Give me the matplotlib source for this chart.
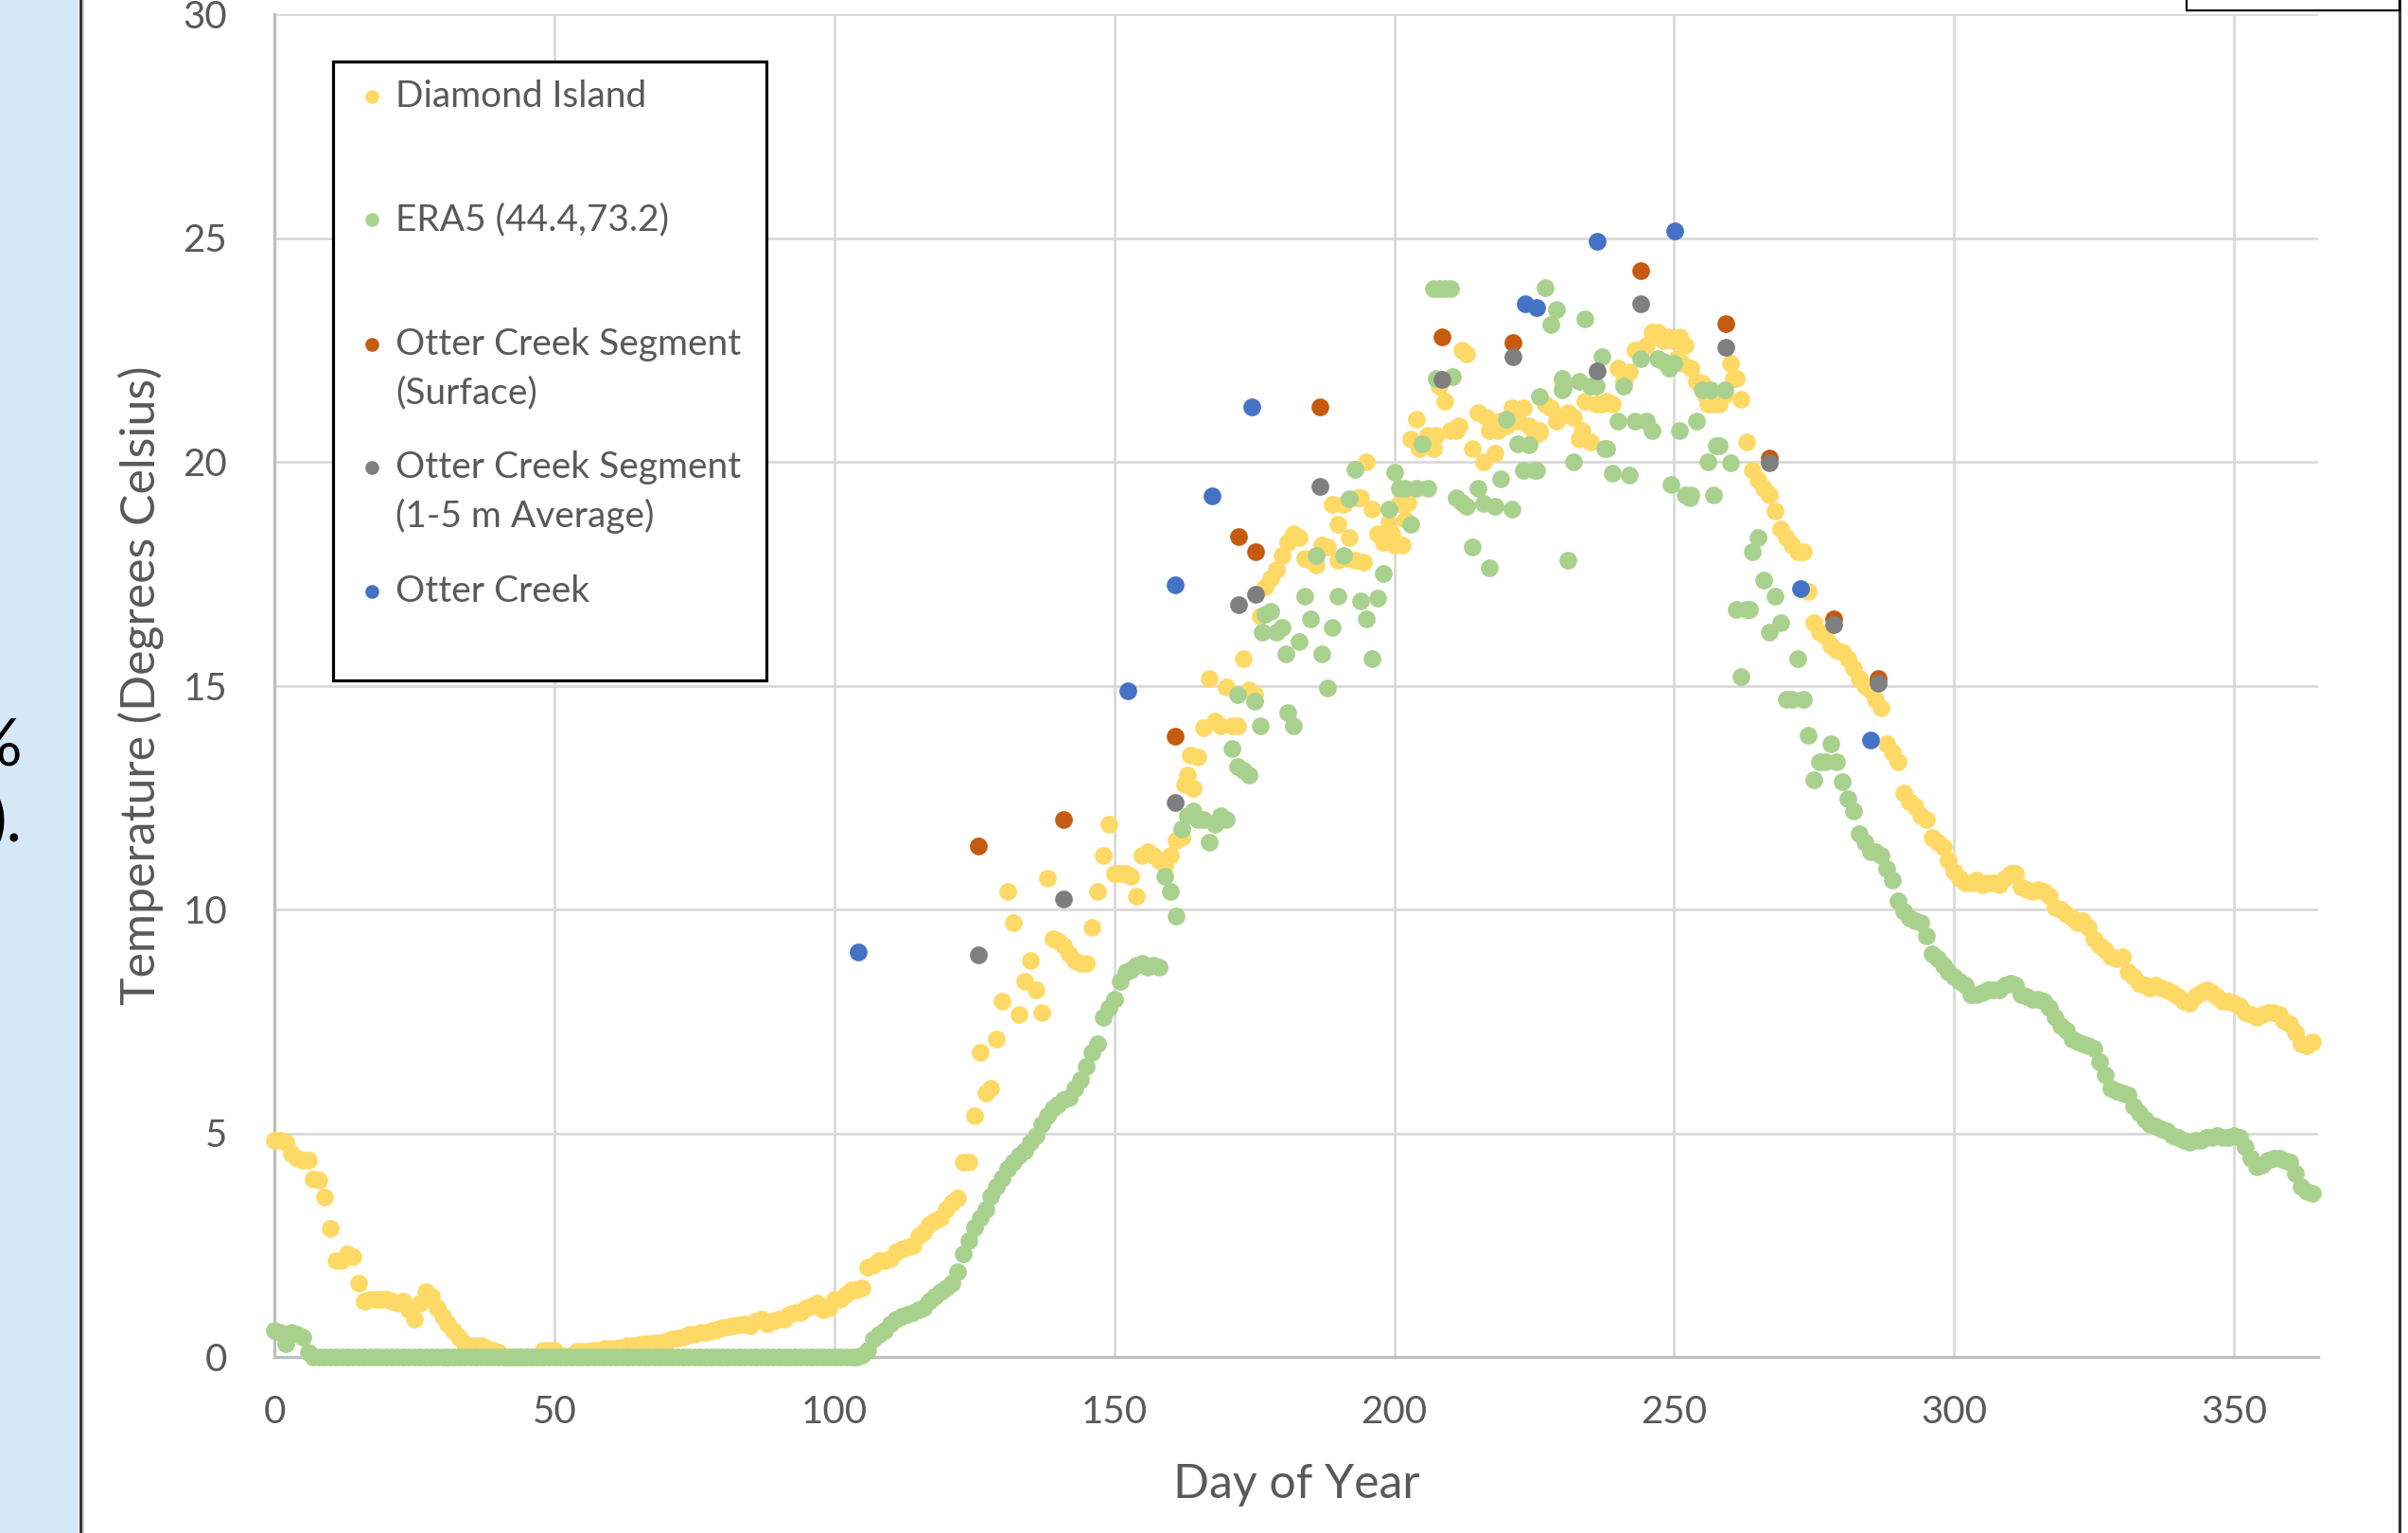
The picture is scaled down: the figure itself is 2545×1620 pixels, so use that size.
import matplotlib
matplotlib.use("Agg")
import matplotlib.pyplot as plt
from matplotlib.patches import Rectangle
from matplotlib.lines import Line2D

plt.rcParams['font.family'] = ['Lato', 'DejaVu Sans']

# ---------------- data ----------------
di_day = list(range(0, 365))
di_temp = [
    4.85, 4.85, 4.80, 4.55, 4.45, 4.40, 4.40, 3.97, 3.95, 3.57,
    2.88, 2.15, 2.15, 2.30, 2.25, 1.65, 1.25, 1.30, 1.30, 1.30,
    1.30, 1.25, 1.20, 1.25, 1.05, 0.85, 1.20, 1.45, 1.35, 1.10,
    0.90, 0.75, 0.60, 0.45, 0.30, 0.25, 0.25, 0.25, 0.20, 0.15,
    0.10, 0.00, 0.00, 0.00, 0.00, 0.00, 0.00, 0.00, 0.15, 0.15,
    0.15, 0.05, 0.00, 0.05, 0.12, 0.12, 0.12, 0.15, 0.15, 0.18,
    0.20, 0.20, 0.22, 0.25, 0.25, 0.28, 0.30, 0.30, 0.32, 0.32,
    0.35, 0.40, 0.42, 0.45, 0.50, 0.50, 0.55, 0.55, 0.60, 0.62,
    0.65, 0.68, 0.70, 0.72, 0.75, 0.70, 0.80, 0.85, 0.75, 0.80,
    0.85, 0.85, 0.95, 1.00, 1.00, 1.10, 1.15, 1.20, 1.05, 1.10,
    1.30, 1.30, 1.40, 1.50, 1.50, 1.55, 2.00, 2.05, 2.15, 2.15,
    2.20, 2.35, 2.40, 2.45, 2.50, 2.70, 2.80, 2.95, 3.05, 3.10,
    3.30, 3.45, 3.55, 4.35, 4.35, 5.40, 6.80, 5.90, 6.00, 7.10,
    7.95, 10.40, 9.70, 7.65, 8.40, 8.85, 8.20, 7.70, 10.70, 9.35,
    9.30, 9.20, 9.00, 8.85, 8.80, 8.80, 9.60, 10.40, 11.20, 11.90,
    10.80, 10.80, 10.80, 10.75, 10.30, 11.20, 11.30, 11.20, 11.10, 11.00,
    11.20, 11.55, 11.60, 13.00, 12.70, 13.40, 14.05, 15.15, 14.20, 14.10,
    14.97, 14.10, 14.10, 15.60, 14.90, 14.80, 16.55, 17.20, 17.40, 17.60,
    17.90, 18.20, 18.40, 18.30, 17.85, 17.80, 17.70, 18.15, 18.10, 19.05,
    18.60, 19.05, 18.30, 17.80, 19.20, 20.00, 18.95, 18.40, 18.20, 18.65,
    18.15, 19.06, 18.70, 20.50, 20.95, 20.40, 20.60, 20.30, 21.70, 21.35,
    20.70, 20.70, 22.50, 22.40, 20.30, 21.10, 20.00, 20.70, 20.20, 20.90,
    20.80, 21.20, 20.90, 21.20, 20.80, 20.60, 20.70, 21.30, 21.20, 20.90,
    21.80, 21.10, 21.00, 20.50, 21.35, 20.45, 21.30, 21.30, 21.35, 21.30,
    22.10, 21.80, 22.00, 22.50, 22.50, 22.60, 22.90, 22.90, 22.70, 22.80,
    22.70, 22.80, 22.60, 22.10, 21.80, 21.75, 21.30, 21.30, 21.30, 21.50,
    22.20, 21.85, 21.40, 20.45, 19.80, 19.60, 19.40, 19.25, 18.90, 18.50,
    18.30, 18.15, 18.00, 18.00, 17.10, 16.40, 16.20, 16.10, 15.90, 15.80,
    15.75, 15.60, 15.40, 15.15, 15.00, 14.90, 14.70, 14.50, 13.70, 13.50,
    13.30, 12.60, 12.40, 12.30, 12.10, 12.00, 11.60, 11.50, 11.40, 11.10,
    10.85, 10.70, 10.60, 10.60, 10.65, 10.55, 10.60, 10.60, 10.55, 10.70,
    10.80, 10.80, 10.50, 10.45, 10.40, 10.45, 10.40, 10.30, 10.05, 10.00,
    9.90, 9.80, 9.70, 9.75, 9.60, 9.35, 9.20, 9.10, 8.95, 8.90,
    8.95, 8.60, 8.50, 8.35, 8.30, 8.25, 8.30, 8.25, 8.20, 8.15,
    8.05, 7.95, 7.90, 8.05, 8.15, 8.20, 8.15, 8.05, 7.95, 7.95,
    7.90, 7.85, 7.70, 7.65, 7.60, 7.65, 7.70, 7.70, 7.65, 7.50,
    7.45, 7.25, 7.00, 6.95, 7.05,
]
di_extra_day = [162.5, 163.5, 190.0, 191.5, 194.5, 193.5, 199.5, 201.5, 202.5,
                204.5, 206.5, 207.5, 211.5, 216.5, 218.5, 226.0, 229.5, 233.5,
                250.5, 251.5, 255.5, 260.5]
di_extra_temp = [12.80, 13.45, 17.80, 17.85, 17.75, 19.20, 18.40, 18.15, 19.10,
                 20.30, 20.35, 20.60, 20.80, 21.00, 20.70, 20.65, 21.00, 20.70,
                 22.30, 22.20, 21.50, 21.85]

era_day = list(range(0, 365))
era_temp = [
    0.60, 0.55, 0.30, 0.55, 0.50, 0.45, 0.10, 0.00, 0.00, 0.00,
    0.00, 0.00, 0.00, 0.00, 0.00, 0.00, 0.00, 0.00, 0.00, 0.00,
    0.00, 0.00, 0.00, 0.00, 0.00, 0.00, 0.00, 0.00, 0.00, 0.00,
    0.00, 0.00, 0.00, 0.00, 0.00, 0.00, 0.00, 0.00, 0.00, 0.00,
    0.00, 0.00, 0.00, 0.00, 0.00, 0.00, 0.00, 0.00, 0.00, 0.00,
    0.00, 0.00, 0.00, 0.00, 0.00, 0.00, 0.00, 0.00, 0.00, 0.00,
    0.00, 0.00, 0.00, 0.00, 0.00, 0.00, 0.00, 0.00, 0.00, 0.00,
    0.00, 0.00, 0.00, 0.00, 0.00, 0.00, 0.00, 0.00, 0.00, 0.00,
    0.00, 0.00, 0.00, 0.00, 0.00, 0.00, 0.00, 0.00, 0.00, 0.00,
    0.00, 0.00, 0.00, 0.00, 0.00, 0.00, 0.00, 0.00, 0.00, 0.00,
    0.00, 0.00, 0.00, 0.00, 0.00, 0.05, 0.15, 0.40, 0.50, 0.60,
    0.75, 0.85, 0.90, 0.95, 1.00, 1.05, 1.10, 1.25, 1.35, 1.45,
    1.55, 1.65, 1.90, 2.30, 2.60, 2.90, 3.10, 3.30, 3.60, 3.80,
    4.00, 4.20, 4.35, 4.50, 4.60, 4.80, 4.95, 5.20, 5.40, 5.55,
    5.65, 5.75, 5.80, 6.00, 6.20, 6.50, 6.80, 7.00, 7.60, 7.80,
    8.00, 8.40, 8.60, 8.65, 8.75, 8.80, 8.70, 8.75, 8.70, 10.75,
    10.40, 9.85, 11.80, 12.10, 12.20, 12.00, 12.00, 11.50, 11.90, 12.10,
    12.00, 13.60, 14.80, 13.10, 13.00, 14.66, 14.10, 16.60, 16.66, 16.20,
    16.30, 14.40, 14.10, 15.98, 17.00, 16.50, 17.90, 15.70, 14.95, 16.30,
    17.00, 17.90, 19.18, 19.83, 16.90, 16.50, 15.60, 16.95, 17.50, 18.95,
    19.77, 19.40, 19.40, 18.60, 19.40, 20.40, 19.40, 23.86, 23.86, 23.86,
    23.86, 19.20, 19.10, 19.00, 18.10, 19.40, 19.06, 17.63, 19.00, 19.63,
    20.95, 18.95, 20.40, 19.80, 20.38, 19.80, 21.46, 23.90, 23.06, 23.40,
    21.60, 17.80, 20.00, 21.80, 23.20, 21.70, 21.70, 22.35, 20.30, 19.75,
    20.90, 21.70, 19.70, 20.90, 22.30, 20.90, 20.70, 22.30, 22.25, 22.10,
    22.20, 20.70, 19.25, 19.25, 20.90, 21.60, 20.00, 19.25, 20.35, 21.60,
    19.98, 16.70, 15.20, 16.70, 18.00, 18.30, 17.35, 16.20, 17.00, 16.40,
    14.70, 14.70, 15.60, 14.70, 13.90, 12.90, 13.30, 13.30, 13.70, 13.30,
    12.85, 12.47, 12.20, 11.70, 11.50, 11.30, 11.30, 11.20, 10.90, 10.65,
    10.20, 9.95, 9.80, 9.75, 9.70, 9.40, 9.00, 8.90, 8.75, 8.60,
    8.50, 8.40, 8.30, 8.10, 8.10, 8.15, 8.20, 8.20, 8.20, 8.30,
    8.35, 8.30, 8.10, 8.05, 8.00, 8.00, 7.95, 7.80, 7.60, 7.40,
    7.30, 7.10, 7.05, 7.00, 6.95, 6.90, 6.60, 6.30, 6.00, 5.95,
    5.90, 5.85, 5.60, 5.45, 5.30, 5.20, 5.15, 5.10, 5.05, 4.95,
    4.90, 4.85, 4.80, 4.85, 4.85, 4.90, 4.90, 4.95, 4.90, 4.90,
    4.95, 4.90, 4.70, 4.45, 4.25, 4.30, 4.40, 4.45, 4.45, 4.40,
    4.35, 4.10, 3.80, 3.70, 3.65,
]
era_extra_day = [172.0, 176.5, 180.7, 207.5, 210.3, 225.4, 230.1, 237.6, 249.5,
                 252.8, 256.5, 257.5, 263.5, 230.0]
era_extra_temp = [13.20, 16.20, 15.70, 21.86, 21.90, 19.80, 21.65, 20.30, 19.50,
                  19.20, 21.60, 20.35, 16.70, 21.85]

surf_day = [125.8, 140.9, 160.9, 172.2, 175.3, 186.8, 208.5, 221.2, 244.0,
            259.2, 267.0, 278.5, 286.4]
surf_temp = [11.42, 12.01, 13.86, 18.34, 17.99, 21.23, 22.79, 22.66, 24.27,
             23.08, 20.09, 16.48, 15.15]

avg_day = [125.8, 140.9, 160.9, 172.2, 175.3, 186.8, 208.5, 221.2, 236.3,
           244.0, 259.2, 267.0, 278.5, 286.4]
avg_temp = [8.98, 10.23, 12.39, 16.80, 17.03, 19.46, 21.83, 22.34, 22.04,
            23.54, 22.55, 19.98, 16.37, 15.06]

oc_day = [104.3, 152.4, 160.9, 167.5, 174.6, 223.4, 225.4, 236.3, 250.1,
          272.5, 285.1]
oc_temp = [9.05, 14.89, 17.25, 19.24, 21.23, 23.54, 23.45, 24.93, 25.16,
           17.17, 13.78]

legend_labels = ["Diamond Island", "ERA5 (44.4,73.2)",
                 "Otter Creek Segment\n(Surface)",
                 "Otter Creek Segment\n(1-5 m Average)", "Otter Creek"]
x_ticks = [0, 50, 100, 150, 200, 250, 300, 350]
y_ticks = [0, 5, 10, 15, 20, 25, 30]
x_title = "Day of Year"
y_title = "Temperature (Degrees Celsius)"

# ---------------- styling ----------------
C_DI = "#FFD966"
C_ERA = "#A9D18E"
C_SURF = "#C55A11"
C_AVG = "#7F7F7F"
C_OC = "#4472C4"
TXT = "#595959"

W, H = 2545, 1620
fig = plt.figure(figsize=(W / 100, H / 100), dpi=100)
fig.patch.set_facecolor("white")


def fx(px):
    return px / W


def fy(py):
    return 1 - py / H


L, R, T, B = 290, 2450, 15, 1434
ax = fig.add_axes([fx(L), fy(B), fx(R) - fx(L), fy(T) - fy(B)])
ax.set_xlim(0, 365)
ax.set_ylim(0, 30)
ax.set_xticks(x_ticks)
ax.set_yticks(y_ticks)
ax.grid(True, color="#D9D9D9", lw=2.0)
ax.set_axisbelow(True)
for s in ("top", "right"):
    ax.spines[s].set_visible(False)
for s in ("left", "bottom"):
    ax.spines[s].set_color("#BFBFBF")
    ax.spines[s].set_linewidth(2.4)
ax.tick_params(axis="both", length=0, labelsize=29, labelcolor=TXT)
ax.tick_params(axis="y", pad=36)
ax.tick_params(axis="x", pad=29)

ms = 13.5
series = [
    (di_day, di_temp, C_DI),
    (di_extra_day, di_extra_temp, C_DI),
    (era_day, era_temp, C_ERA),
    (era_extra_day, era_extra_temp, C_ERA),
    (surf_day, surf_temp, C_SURF),
    (avg_day, avg_temp, C_AVG),
    (oc_day, oc_temp, C_OC),
]
for i, (xd, yd, c) in enumerate(series):
    ax.plot(xd, yd, linestyle="none", marker="o", ms=ms, mfc=c, mec=c, mew=0,
            clip_on=False, zorder=3 + i)

ax.set_xlabel(x_title, fontsize=36, color=TXT, va="center")
ax.xaxis.set_label_coords(0.5, (B - 1569) / (B - T))
ax.set_ylabel(y_title, fontsize=36, color=TXT, va="center")
ax.yaxis.set_label_coords((149 - L) / (R - L), 0.5)

# ---------------- legend box (manual, Excel-like layout) ----------------
fig.add_artist(Rectangle((fx(352), fy(719)), fx(810) - fx(352), fy(65) - fy(719),
                         transform=fig.transFigure, fc="white", ec="black",
                         lw=2.3, zorder=20))
leg_y = [102, 232, 364, 494, 625]
leg_c = [C_DI, C_ERA, C_SURF, C_AVG, C_OC]
for y, c, lab in zip(leg_y, leg_c, legend_labels):
    fig.add_artist(Line2D([fx(393)], [fy(y)], marker="o", ms=10.5, mfc=c, mec=c,
                          mew=0, linestyle="none", transform=fig.transFigure,
                          zorder=21))
    for k, line in enumerate(lab.split("\n")):
        fig.text(fx(418), fy(y + 51 * k), line, ha="left", va="center",
                 fontsize=28, color=TXT, zorder=22)

# ---------------- surrounding document elements ----------------
fig.add_artist(Rectangle((0, 0), fx(83), 1, transform=fig.transFigure,
                         fc="#D6E7F6", ec="none", zorder=1))
fig.add_artist(Line2D([fx(84.5), fx(84.5)], [0, 1], color="#333333", lw=2.2,
                      transform=fig.transFigure, zorder=2))
fig.add_artist(Line2D([fx(87.5), fx(87.5)], [0, 1], color="#C8C8C8", lw=1.2,
                      transform=fig.transFigure, zorder=2))
fig.add_artist(Line2D([fx(2536), fx(2536)], [0, 1], color="#333333", lw=2.2,
                      transform=fig.transFigure, zorder=2))
fig.add_artist(Rectangle((fx(2311), fy(11)), fx(2536) - fx(2311), fy(-10) - fy(11),
                         transform=fig.transFigure, fc="white", ec="black",
                         lw=1.6, zorder=2))
fig.text(fx(24), fy(790), "%", ha="right", va="center", fontsize=50,
         color="black")
fig.text(fx(24), fy(868), ").", ha="right", va="center", fontsize=50,
         color="black")

fig.savefig("out.png", dpi=100)
